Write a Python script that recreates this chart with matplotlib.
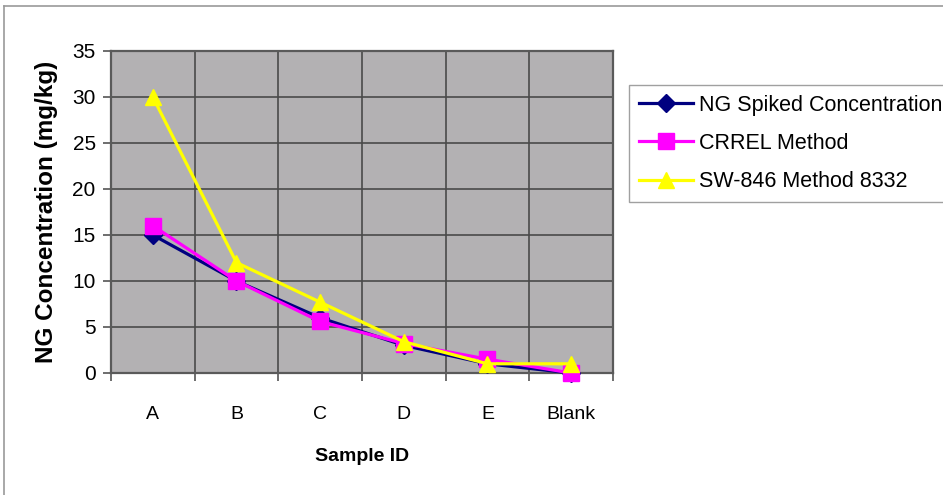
import numpy as np
import matplotlib.pyplot as plt
from matplotlib.lines import Line2D

# data
samples = ['A', 'B', 'C', 'D', 'E', 'Blank']
ng_spiked = [15, 10, 6, 3, 1, 0]
crrel = [16, 10, 5.6, 3.2, 1.5, 0]
sw846 = [30, 12, 7.7, 3.4, 1.0, 1.0]
series_names = ['NG Spiked Concentration', 'CRREL Method', 'SW-846 Method 8332']
y_ticks = [0, 5, 10, 15, 20, 25, 30, 35]

plt.rcParams['font.family'] = ['Liberation Sans', 'DejaVu Sans']

W, H = 943, 495
fig = plt.figure(figsize=(W / 100, H / 100), dpi=100)
ax = fig.add_axes([111 / W, 1 - 373 / H, (613 - 111) / W, (373 - 51) / H])
ax.set_facecolor('#B3B1B3')

x = np.arange(len(samples))
ax.plot(x, ng_spiked, color='#000080', lw=2.3, marker='D', ms=9,
        label=series_names[0], zorder=3, clip_on=False)
ax.plot(x, crrel, color='#FF00FF', lw=2.3, marker='s', ms=11,
        label=series_names[1], zorder=4, clip_on=False)
ax.plot(x, sw846, color='#FFFF00', lw=2.3, marker='^', ms=12,
        label=series_names[2], zorder=5, clip_on=False)

ax.set_xlim(-0.5, len(samples) - 0.5)
ax.set_ylim(0, 35)
ax.set_yticks(y_ticks)
ax.set_xticks(x)
ax.set_xticklabels(samples)
ax.set_xticks(np.arange(len(samples) + 1) - 0.5, minor=True)

ax.grid(True, which='major', axis='y', color='#4A4A4A', lw=1.2)
ax.grid(True, which='minor', axis='x', color='#4A4A4A', lw=1.2)
ax.set_axisbelow(True)

ax.tick_params(axis='x', which='major', length=0, pad=24, labelsize=14)
ax.tick_params(axis='x', which='minor', length=6, width=1.2, color='#555555', direction='out')
ax.tick_params(axis='y', length=6, width=1.2, color='#555555', direction='out', pad=5, labelsize=15)

for s in ax.spines.values():
    s.set_color('#5A5A5A')
    s.set_linewidth(1.6)

ax.set_xlabel('Sample ID', fontsize=14, fontweight='bold', labelpad=18)
ax.set_ylabel('NG Concentration (mg/kg)', fontsize=17.5, fontweight='bold', labelpad=10)

leg = ax.legend(loc='upper left', bbox_to_anchor=(629 / W, 1 - 85 / H),
                bbox_transform=fig.transFigure, fontsize=15.5, frameon=True,
                fancybox=False, edgecolor='#888888', borderpad=0.45,
                handlelength=2.5, handletextpad=0.3, labelspacing=0.8,
                borderaxespad=0)
leg.get_frame().set_linewidth(1.0)

# outer chart border
fig.add_artist(Line2D([4 / W, 4 / W], [0, 1 - 6 / H], transform=fig.transFigure,
                      color='#9A9A9A', lw=1.2))
fig.add_artist(Line2D([4 / W, 1], [1 - 6 / H, 1 - 6 / H], transform=fig.transFigure,
                      color='#9A9A9A', lw=1.2))

fig.savefig('out.png', dpi=100)
